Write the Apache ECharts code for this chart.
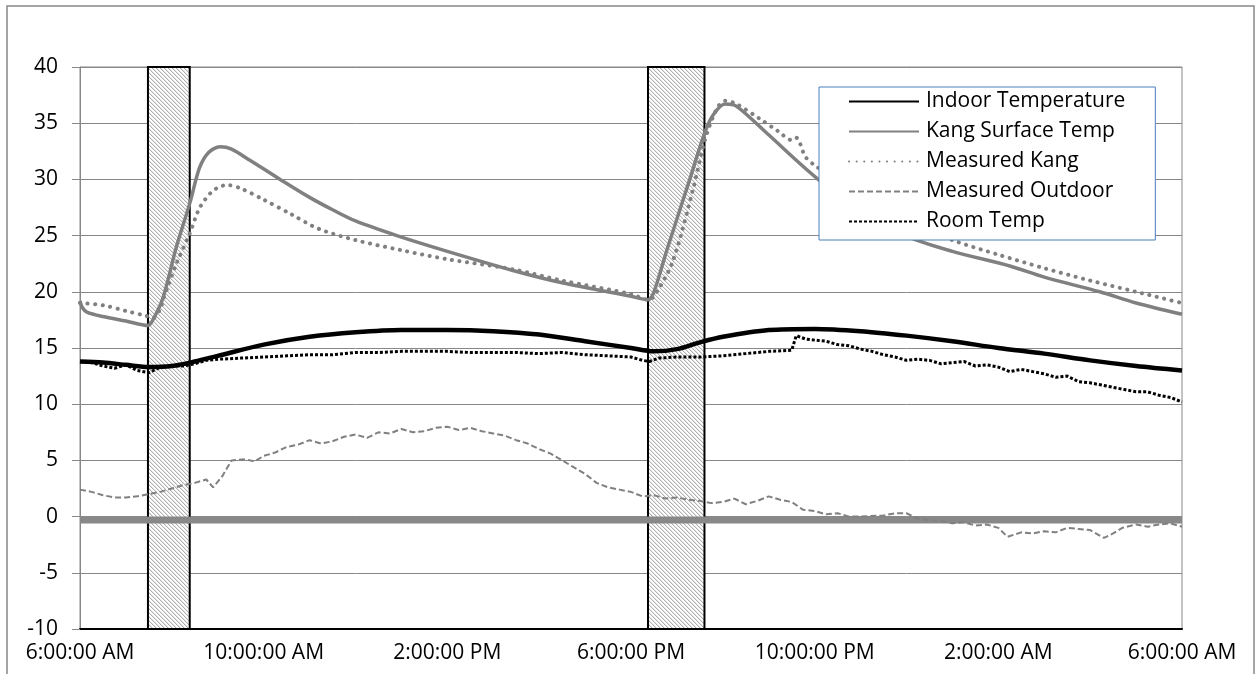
<!DOCTYPE html>
<html>
<head>
<meta charset="utf-8">
<script src="https://cdn.jsdelivr.net/npm/echarts@6/dist/echarts.min.js"></script>
<style>
  html, body { margin: 0; padding: 0; background: #fff; }
  #chart { width: 1255px; height: 674px; }
</style>
</head>
<body>
<div id="chart"></div>
<script>
// x values are hours after 6:00 AM
const xLabels = ['6:00:00 AM', '10:00:00 AM', '2:00:00 PM', '6:00:00 PM', '10:00:00 PM', '2:00:00 AM', '6:00:00 AM']

// heating periods (hatched bars)
const firingPeriods = [[1.48, 2.39], [12.37, 13.6]]

const baseLevel = -0.3

const indoorTemp = [
  [0, 13.8], [0.5, 13.7], [1, 13.5], [1.5, 13.3], [2, 13.4], [2.5, 13.8], [3, 14.3],
  [4, 15.3], [5, 16.0], [6, 16.4], [7, 16.6], [8, 16.6], [9, 16.5], [10, 16.2],
  [11, 15.6], [12, 15.0], [12.5, 14.7], [13, 14.9], [13.5, 15.5], [14, 16.0],
  [15, 16.6], [16, 16.7], [17, 16.5], [18, 16.1], [19, 15.6], [20, 15.0],
  [21, 14.5], [22, 13.9], [23, 13.4], [24, 13.0]
]

const kangSurface = [
  [0, 19.2], [0.05, 18.6], [0.15, 18.2], [0.5, 17.8], [1, 17.4], [1.48, 17.0], [1.6, 17.6],
  [1.81, 19.5], [2.1, 24.0], [2.4, 28.0], [2.6, 31.0], [2.8, 32.4], [3.05, 32.9],
  [3.3, 32.7], [3.7, 31.7], [4.36, 30.0], [5, 28.4], [5.5, 27.3], [6, 26.3], [6.9, 25.0],
  [8, 23.6], [9.43, 21.9], [10.5, 20.8], [12, 19.6], [12.37, 19.3], [12.5, 20.0],
  [12.78, 23.7], [13.28, 30.0], [13.61, 34.2], [13.8, 35.8], [14.05, 36.7],
  [14.3, 36.5], [14.96, 34.1], [16.05, 30.1], [17, 27.3], [17.97, 25.0],
  [19, 23.6], [20.25, 22.3], [21, 21.3], [22.21, 20.0], [23, 19.0], [24, 18.0]
]

const measuredKang = [
  [0, 19.0], [0.5, 18.8], [1, 18.3], [1.4, 17.9], [1.6, 17.7], [1.75, 18.5], [1.81, 19.3],
  [2.1, 22.5], [2.4, 25.3], [2.61, 27.5], [2.9, 29.0], [3.2, 29.5], [3.5, 29.2],
  [4, 28.2], [4.6, 26.9], [5.2, 25.6], [6, 24.6], [7, 23.7], [8, 22.9], [9.43, 22.0],
  [10.5, 21.0], [12, 19.8], [12.37, 19.3], [12.5, 19.6], [12.9, 22.6], [13.35, 29.1],
  [13.61, 33.5], [13.87, 36.3], [14.05, 37.0], [14.3, 36.7], [14.8, 35.4],
  [15.2, 34.3], [15.5, 33.5], [15.6, 33.7], [15.8, 32.0], [16.05, 31.1], [16.3, 30.5],
  [17, 28.6], [18, 26.3], [19, 24.6], [20, 23.3], [21, 22.1], [22, 21.0], [23, 20.0], [24, 19.0]
]

const measuredOutdoor = [
  [0, 2.4], [0.25, 2.2], [0.5, 1.9], [0.75, 1.7], [1, 1.7], [1.25, 1.8], [1.5, 2.0],
  [1.75, 2.2], [2, 2.5], [2.25, 2.8], [2.5, 3.0], [2.75, 3.3], [2.9, 2.6], [3.1, 3.6],
  [3.3, 5.0], [3.6, 5.1], [3.8, 4.9], [4, 5.4], [4.25, 5.7], [4.5, 6.2], [4.75, 6.4],
  [5, 6.8], [5.25, 6.5], [5.5, 6.7], [5.75, 7.1], [6, 7.3], [6.25, 7.0], [6.5, 7.5],
  [6.75, 7.4], [7, 7.8], [7.25, 7.5], [7.5, 7.6], [7.75, 7.9], [8, 8.0], [8.25, 7.7],
  [8.5, 7.9], [8.75, 7.6], [9, 7.4], [9.25, 7.2], [9.5, 6.8], [9.75, 6.5], [10, 6.0],
  [10.25, 5.6], [10.5, 5.0], [10.75, 4.4], [11, 3.8], [11.25, 3.0], [11.5, 2.6],
  [11.75, 2.4], [12, 2.2], [12.25, 1.8], [12.5, 1.9], [12.75, 1.6], [13, 1.7],
  [13.25, 1.5], [13.5, 1.4], [13.75, 1.2], [14, 1.3], [14.25, 1.6], [14.5, 1.1],
  [14.75, 1.4], [15, 1.8], [15.25, 1.5], [15.5, 1.3], [15.75, 0.6], [16, 0.5],
  [16.25, 0.2], [16.5, 0.3], [16.75, 0.0], [17, 0.0], [17.5, 0.1], [17.75, 0.3],
  [18, 0.3], [18.25, -0.2], [18.5, -0.3], [18.75, -0.4], [19, -0.6], [19.25, -0.5],
  [19.5, -0.8], [19.75, -0.7], [20, -1.0], [20.2, -1.8], [20.5, -1.4], [20.75, -1.5],
  [21, -1.3], [21.25, -1.4], [21.5, -1.0], [21.75, -1.1], [22, -1.2], [22.3, -1.9],
  [22.5, -1.5], [22.7, -1.0], [23, -0.7], [23.25, -0.9], [23.5, -0.7], [23.75, -0.6], [24, -0.9]
]

const roomTemp = [
  [0, 13.8], [0.25, 13.7], [0.5, 13.4], [0.75, 13.2], [1, 13.5], [1.25, 13.0], [1.5, 12.8],
  [1.75, 13.3], [2, 13.4], [2.25, 13.4], [2.5, 13.6], [2.75, 13.9], [3, 14.0], [3.5, 14.1],
  [4, 14.2], [4.5, 14.3], [5, 14.4], [5.5, 14.4], [6, 14.6], [6.5, 14.6], [7, 14.7],
  [7.5, 14.7], [8, 14.7], [8.5, 14.6], [9, 14.6], [9.5, 14.6], [10, 14.5], [10.5, 14.6],
  [11, 14.4], [11.5, 14.3], [12, 14.2], [12.25, 13.9], [12.4, 13.8], [12.6, 14.1],
  [13, 14.2], [13.5, 14.2], [14, 14.3], [14.5, 14.5], [15, 14.7], [15.5, 14.8],
  [15.6, 16.1], [15.8, 15.8], [16, 15.7], [16.25, 15.6], [16.5, 15.3], [16.75, 15.2],
  [17, 14.9], [17.25, 14.7], [17.5, 14.4], [17.75, 14.2], [18, 13.9], [18.25, 14.0],
  [18.5, 13.9], [18.75, 13.6], [19, 13.7], [19.25, 13.8], [19.5, 13.4], [19.75, 13.5],
  [20, 13.3], [20.25, 12.9], [20.5, 13.1], [20.75, 12.9], [21, 12.7], [21.25, 12.4],
  [21.5, 12.5], [21.75, 12.0], [22, 11.9], [22.25, 11.7], [22.5, 11.5], [22.75, 11.3],
  [23, 11.1], [23.25, 11.1], [23.5, 10.8], [23.75, 10.6], [24, 10.2]
]

function hatchPattern() {
  const c = document.createElement('canvas')
  c.width = 8
  c.height = 8
  const ctx = c.getContext('2d')
  const img = ctx.createImageData(8, 8)
  for (let y = 0; y < 8; y++) {
    for (let x = 0; x < 8; x++) {
      const k = ((x - y) % 4 + 4) % 4
      const v = k === 0 ? 175 : (k === 1 ? 230 : 255)
      const i = (y * 8 + x) * 4
      img.data[i] = v
      img.data[i + 1] = v
      img.data[i + 2] = v
      img.data[i + 3] = 255
    }
  }
  ctx.putImageData(img, 0, 0)
  return c
}

const font = '"Open Sans", "Liberation Sans", sans-serif'
const chart = echarts.init(document.getElementById('chart'))

const option = {
  animation: false,
  backgroundColor: '#fff',
  textStyle: { fontFamily: font },
  graphic: [{
    type: 'rect',
    shape: { x: 7, y: 6, width: 1247, height: 720 },
    style: { fill: 'none', stroke: '#888', lineWidth: 1.5 },
    silent: true
  }],
  grid: {
    left: 80, right: 73, top: 67, bottom: 45,
    show: true, borderColor: '#888', borderWidth: 1
  },
  legend: {
    data: ['Indoor Temperature', 'Kang Surface Temp', 'Measured Kang', 'Measured Outdoor', 'Room Temp'],
    orient: 'vertical',
    left: 819,
    top: 87,
    width: 331,
    padding: [4, 30, 8, 29],
    itemGap: 9,
    itemWidth: 70,
    itemHeight: 14,
    itemStyle: { opacity: 0, borderWidth: 0 },
    backgroundColor: '#fff',
    borderColor: '#4a7ebb',
    borderWidth: 1,
    textStyle: { fontSize: 21, color: '#000', fontFamily: font, padding: [0, 0, 0, 2] }
  },
  xAxis: {
    type: 'value',
    min: 0,
    max: 24,
    interval: 4,
    axisLine: { onZero: false, lineStyle: { color: '#000', width: 2 } },
    axisTick: { show: false },
    splitLine: { show: false },
    axisLabel: {
      fontSize: 21,
      color: '#000',
      margin: 14,
      formatter: v => xLabels[Math.round(v / 4)]
    }
  },
  yAxis: {
    type: 'value',
    min: -10,
    max: 40,
    interval: 5,
    axisLine: { show: true, lineStyle: { color: '#888', width: 1 } },
    axisTick: { show: true, length: 8, lineStyle: { color: '#888' } },
    splitLine: { lineStyle: { color: '#888', width: 1 } },
    axisLabel: { fontSize: 21, color: '#000', margin: 22 }
  },
  series: [
    {
      name: 'firing',
      type: 'line',
      data: [],
      z: 1,
      markArea: {
        silent: true,
        itemStyle: {
          color: { image: hatchPattern(), repeat: 'repeat' },
          borderColor: '#000',
          borderWidth: 2
        },
        data: firingPeriods.map(p => [{ xAxis: p[0], yAxis: 40 }, { xAxis: p[1], yAxis: -10 }])
      }
    },
    {
      name: 'base',
      type: 'line',
      z: 2,
      symbol: 'none',
      data: [[0, baseLevel], [24, baseLevel]],
      lineStyle: { color: '#888', width: 7 }
    },
    {
      name: 'Measured Outdoor',
      type: 'line',
      z: 3,
      symbol: 'none',
      data: measuredOutdoor,
      itemStyle: { color: '#808080' },
      lineStyle: { color: '#808080', width: 2, type: [6, 3] }
    },
    {
      name: 'Kang Surface Temp',
      type: 'line',
      z: 3,
      symbol: 'none',
      smooth: 0.3,
      data: kangSurface,
      itemStyle: { color: '#808080' },
      lineStyle: { color: '#808080', width: 3.5 }
    },
    {
      name: 'Measured Kang',
      type: 'line',
      z: 3,
      symbol: 'none',
      smooth: 0.3,
      data: measuredKang,
      itemStyle: { color: '#808080' },
      lineStyle: { color: '#808080', width: 4, type: [0.1, 7.5], cap: 'round' }
    },
    {
      name: 'Room Temp',
      type: 'line',
      z: 4,
      symbol: 'none',
      data: roomTemp,
      itemStyle: { color: '#000' },
      lineStyle: { color: '#000', width: 3, type: [3, 2] }
    },
    {
      name: 'Indoor Temperature',
      type: 'line',
      z: 4,
      symbol: 'none',
      smooth: 0.3,
      data: indoorTemp,
      itemStyle: { color: '#000' },
      lineStyle: { color: '#000', width: 4.5 }
    }
  ]
}

chart.setOption(option)
</script>
</body>
</html>
